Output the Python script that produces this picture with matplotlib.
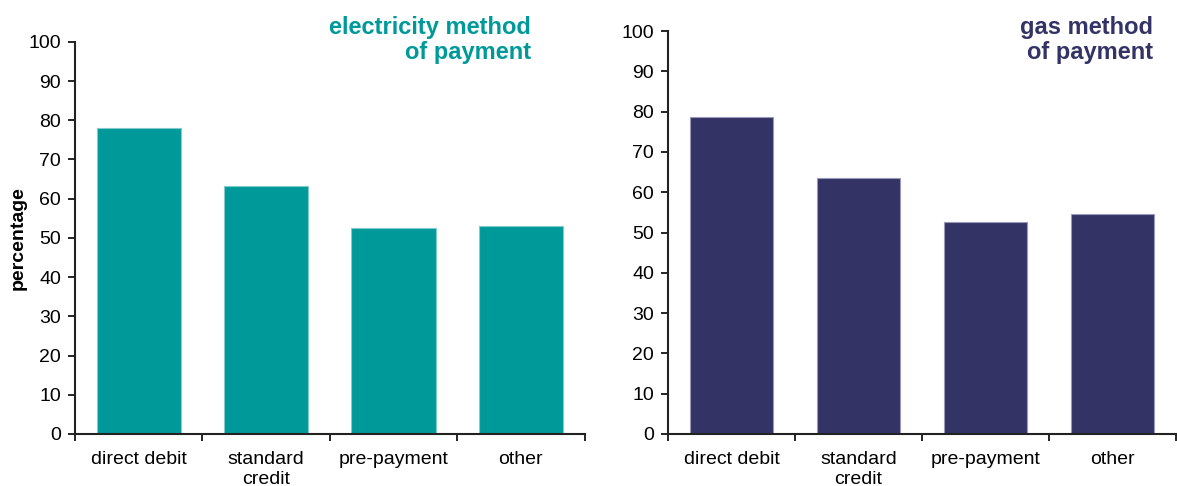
import numpy as np
import matplotlib
matplotlib.use('Agg')
import matplotlib.pyplot as plt

plt.rcParams.update({'font.family': 'Liberation Sans', 'font.size': 14})

categories = ['direct debit', 'standard\ncredit', 'pre-payment', 'other']
electricity = [78.1, 63.3, 52.4, 53.1]
gas = [78.8, 63.6, 52.6, 54.7]

teal = '#009999'
navy = '#333366'

fig = plt.figure(figsize=(11.77, 4.86), dpi=100)
ax1 = fig.add_axes([0.0637, 0.107, 0.433, 0.807])
ax2 = fig.add_axes([0.5675, 0.107, 0.4316, 0.829])


def draw_panel(ax, values, color, edge, title, title_x):
    x = np.arange(len(categories))
    ax.bar(x, values, width=0.66, color=color, edgecolor=edge, linewidth=0.8)
    ax.set_xlim(-0.5, len(categories) - 0.5)
    ax.set_ylim(0, 100)
    ax.set_yticks(np.arange(0, 101, 10))
    # category boundaries carry the tick marks, labels sit between them
    ax.set_xticks(np.arange(-0.5, len(categories), 1.0))
    ax.set_xticklabels([])
    ax.set_xticks(x, minor=True)
    ax.set_xticklabels(categories, minor=True, va='top', linespacing=1.25)
    ax.tick_params(axis='x', which='minor', length=0, pad=12)
    ax.tick_params(axis='x', which='major', length=5, width=1.2, direction='out')
    ax.tick_params(axis='y', length=5, width=1.2, direction='out', pad=5)
    for s in ['top', 'right']:
        ax.spines[s].set_visible(False)
    for s in ['left', 'bottom']:
        ax.spines[s].set_linewidth(1.5)
        ax.spines[s].set_color('#222222')
    fig.text(title_x, 0.967, title, color=color, fontsize=17, fontweight='bold',
             ha='right', va='top', linespacing=1.1)


draw_panel(ax1, electricity, teal, '#80cccc', 'electricity method\nof payment', 0.451)
draw_panel(ax2, gas, navy, '#9a9ab8', 'gas method\nof payment', 0.980)
ax1.set_ylabel('percentage', fontweight='bold', fontsize=14, labelpad=1)

fig.savefig('out.png', dpi=100)
